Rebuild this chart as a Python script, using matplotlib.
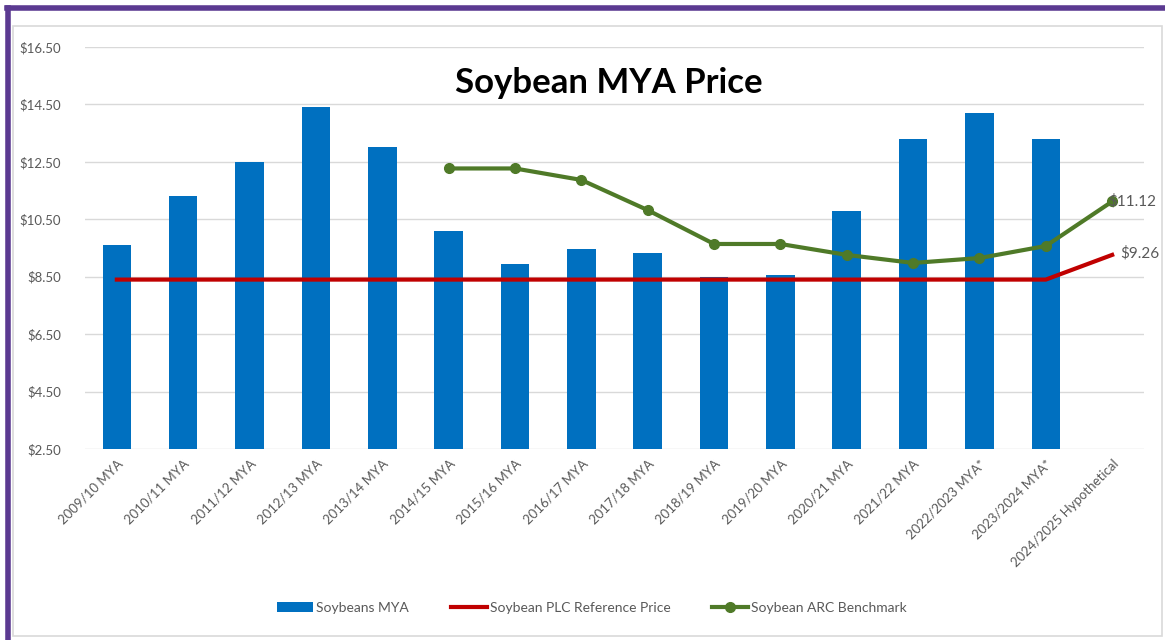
import matplotlib.pyplot as plt
from matplotlib.patches import Rectangle
import numpy as np

plt.rcParams["font.family"] = ["Lato", "DejaVu Sans"]

# ------------------------------------------------------------------ data
seasons = [
    "2009/10 MYA", "2010/11 MYA", "2011/12 MYA", "2012/13 MYA",
    "2013/14 MYA", "2014/15 MYA", "2015/16 MYA", "2016/17 MYA",
    "2017/18 MYA", "2018/19 MYA", "2019/20 MYA", "2020/21 MYA",
    "2021/22 MYA", "2022/2023 MYA*", "2023/2024 MYA*", "2024/2025 Hypothetical",
]
mya_price = [9.59, 11.30, 12.50, 14.40, 13.00, 10.10, 8.95, 9.47,
             9.33, 8.48, 8.57, 10.80, 13.30, 14.20, 13.30, np.nan]
plc_reference = [8.40] * 15 + [9.26]
arc_benchmark = [np.nan] * 5 + [12.27, 12.27, 11.87, 10.82, 9.64, 9.64,
                                9.26, 8.98, 9.15, 9.57, 11.12]
y_ticks = [2.5, 4.5, 6.5, 8.5, 10.5, 12.5, 14.5, 16.5]

BLUE = "#0070C0"
RED = "#C00000"
GREEN = "#4F7A28"
GREY_TXT = "#595959"
PURPLE = "#5B3A91"

fig = plt.figure(figsize=(11.65, 6.4), dpi=100)

# outer frames: light grey chart border, purple slide border
fig.patches.append(Rectangle((13 / 1165, 1 - 636 / 640), 1149 / 1165, 610 / 640,
                             transform=fig.transFigure, fill=False,
                             edgecolor="#D9D9D9", lw=1.2))
fig.add_artist(plt.Line2D([7 / 1165, 1.0], [1 - 7.5 / 640] * 2,
                          transform=fig.transFigure, color=PURPLE, lw=4))
fig.add_artist(plt.Line2D([7.5 / 1165] * 2, [0, 1 - 7.5 / 640],
                          transform=fig.transFigure, color=PURPLE, lw=4))

ax = fig.add_axes([85 / 1165, 1 - 449 / 640, 1059 / 1165, 402 / 640])
x = np.arange(len(seasons))

bars = ax.bar(x, mya_price, width=0.43, color=BLUE, zorder=2,
              label="Soybeans MYA")
plc_line, = ax.plot(x, plc_reference, color=RED, lw=3, zorder=3,
                    label="Soybean PLC Reference Price")
arc_line, = ax.plot(x, arc_benchmark, color=GREEN, lw=3, marker="o", ms=7,
                    zorder=4, label="Soybean ARC Benchmark")

ax.annotate(f"${arc_benchmark[-1]:.2f}", (x[-1], arc_benchmark[-1]),
            xytext=(-3, 0), textcoords="offset points", ha="left",
            va="center", fontsize=11, color=GREY_TXT, zorder=5)
ax.annotate(f"${plc_reference[-1]:.2f}", (x[-1], plc_reference[-1]),
            xytext=(6, 1), textcoords="offset points", ha="left",
            va="center", fontsize=11, color=GREY_TXT, zorder=5)

ax.set_xlim(-0.48, 15.48)
ax.set_ylim(2.5, 16.5)
ax.set_yticks(y_ticks)
ax.set_yticklabels([f"${v:.2f}" for v in y_ticks])
ax.set_xticks(x)
ax.set_xticklabels(seasons, rotation=45, ha="right", rotation_mode="anchor")
ax.tick_params(axis="both", length=0, labelsize=9.5, colors=GREY_TXT)
ax.tick_params(axis="y", pad=17)
ax.tick_params(axis="x", pad=6)
ax.grid(axis="y", color="#D9D9D9", lw=1, zorder=0)
for s in ax.spines.values():
    s.set_visible(False)

ax.text(0.495, 0.91, "Soybean MYA Price", transform=ax.transAxes,
        ha="center", va="center", fontsize=25, fontweight="bold",
        color="black", zorder=6)

fig.legend([bars, plc_line, arc_line],
           ["Soybeans MYA", "Soybean PLC Reference Price",
            "Soybean ARC Benchmark"],
           loc="center", bbox_to_anchor=(592 / 1165, 1 - 608 / 640),
           ncol=3, frameon=False, fontsize=10, handlelength=2.6,
           handletextpad=0.2, columnspacing=3.0, labelcolor=GREY_TXT)

fig.savefig("out.png", dpi=100)
